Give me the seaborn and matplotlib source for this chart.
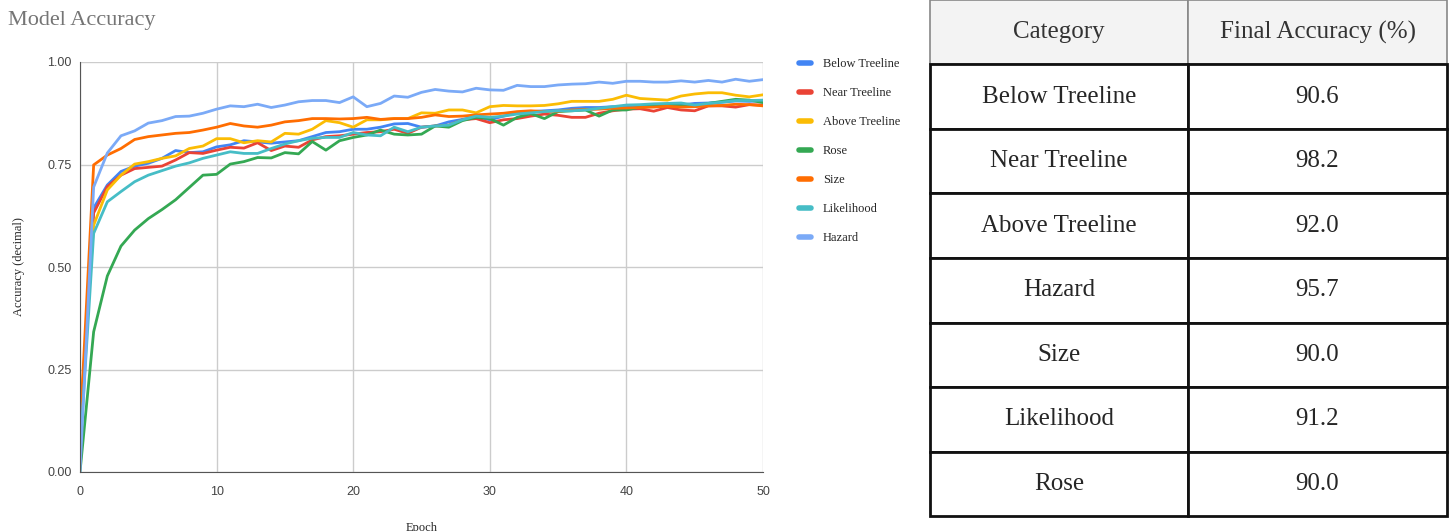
import pandas as pd
import numpy as np
import seaborn as sns
import matplotlib.pyplot as plt
from matplotlib.lines import Line2D

# Datos (precision por epoca)
epocas = list(range(0, 51))

below_treeline = [0.08, 0.644, 0.700, 0.733, 0.746, 0.753, 0.765, 0.784, 0.779, 0.781,
                  0.793, 0.798, 0.808, 0.805, 0.802, 0.805, 0.808, 0.818, 0.828, 0.830,
                  0.836, 0.836, 0.841, 0.849, 0.850, 0.841, 0.844, 0.854, 0.860, 0.867,
                  0.859, 0.868, 0.876, 0.879, 0.881, 0.883, 0.887, 0.889, 0.889, 0.891,
                  0.889, 0.893, 0.895, 0.897, 0.895, 0.899, 0.900, 0.902, 0.905, 0.904,
                  0.906]
near_treeline = [0.10, 0.632, 0.696, 0.724, 0.740, 0.743, 0.746, 0.761, 0.779, 0.777,
                 0.785, 0.792, 0.790, 0.803, 0.784, 0.795, 0.792, 0.810, 0.818, 0.820,
                 0.824, 0.828, 0.830, 0.836, 0.826, 0.841, 0.844, 0.846, 0.859, 0.862,
                 0.852, 0.859, 0.862, 0.868, 0.873, 0.870, 0.865, 0.865, 0.875, 0.881,
                 0.885, 0.886, 0.880, 0.889, 0.883, 0.881, 0.893, 0.893, 0.890, 0.896,
                 0.895]
above_treeline = [0.12, 0.602, 0.688, 0.724, 0.751, 0.757, 0.765, 0.771, 0.789, 0.795,
                  0.813, 0.813, 0.803, 0.808, 0.805, 0.826, 0.824, 0.836, 0.857, 0.852,
                  0.841, 0.859, 0.859, 0.862, 0.862, 0.876, 0.875, 0.883, 0.883, 0.876,
                  0.891, 0.894, 0.893, 0.893, 0.894, 0.898, 0.904, 0.904, 0.904, 0.909,
                  0.919, 0.911, 0.909, 0.907, 0.917, 0.922, 0.925, 0.925, 0.919, 0.915,
                  0.920]
rose = [0.00, 0.342, 0.478, 0.551, 0.590, 0.618, 0.640, 0.664, 0.694, 0.724,
        0.726, 0.751, 0.757, 0.767, 0.766, 0.779, 0.776, 0.806, 0.785, 0.808,
        0.816, 0.822, 0.834, 0.824, 0.822, 0.824, 0.844, 0.841, 0.857, 0.865,
        0.862, 0.846, 0.865, 0.874, 0.862, 0.879, 0.881, 0.883, 0.868, 0.883,
        0.883, 0.890, 0.893, 0.895, 0.893, 0.893, 0.899, 0.904, 0.909, 0.907,
        0.901]
size = [0.10, 0.749, 0.773, 0.789, 0.811, 0.818, 0.822, 0.826, 0.828, 0.834,
        0.841, 0.850, 0.844, 0.841, 0.846, 0.854, 0.857, 0.862, 0.862, 0.861,
        0.862, 0.865, 0.860, 0.862, 0.862, 0.865, 0.871, 0.867, 0.868, 0.871,
        0.873, 0.875, 0.879, 0.881, 0.879, 0.880, 0.883, 0.884, 0.885, 0.887,
        0.888, 0.889, 0.890, 0.892, 0.890, 0.891, 0.893, 0.894, 0.897, 0.896,
        0.893]
likelihood = [0.05, 0.582, 0.659, 0.684, 0.708, 0.724, 0.735, 0.746, 0.754, 0.765,
              0.773, 0.781, 0.777, 0.777, 0.789, 0.800, 0.808, 0.814, 0.816, 0.816,
              0.828, 0.822, 0.820, 0.841, 0.830, 0.841, 0.844, 0.846, 0.859, 0.868,
              0.865, 0.868, 0.873, 0.876, 0.879, 0.881, 0.881, 0.883, 0.887, 0.891,
              0.895, 0.896, 0.898, 0.899, 0.900, 0.895, 0.899, 0.902, 0.906, 0.906,
              0.907]
hazard = [0.00, 0.695, 0.778, 0.820, 0.832, 0.851, 0.857, 0.867, 0.868, 0.875,
          0.885, 0.893, 0.891, 0.897, 0.889, 0.895, 0.903, 0.906, 0.906, 0.901,
          0.915, 0.891, 0.899, 0.917, 0.914, 0.926, 0.933, 0.929, 0.927, 0.936,
          0.932, 0.931, 0.943, 0.940, 0.940, 0.944, 0.946, 0.947, 0.951, 0.948,
          0.953, 0.953, 0.951, 0.951, 0.954, 0.951, 0.955, 0.951, 0.958, 0.953,
          0.957]

series = ["Below Treeline", "Near Treeline", "Above Treeline", "Rose", "Size", "Likelihood", "Hazard"]
colores = ["#4285f4", "#ea4335", "#fbbc04", "#34a853", "#ff6d01", "#46bdc6", "#7baaf7"]

# Tabla de precision final
categorias_tabla = ["Below Treeline", "Near Treeline", "Above Treeline", "Hazard", "Size", "Likelihood", "Rose"]
precision_final = ["90.6", "98.2", "92.0", "95.7", "90.0", "91.2", "90.0"]

valores = [below_treeline, near_treeline, above_treeline, rose, size, likelihood, hazard]
filas = []
for nombre, vals in zip(series, valores):
    for e, v in zip(epocas, vals):
        filas.append({"Epoch": e, "Accuracy": v, "Serie": nombre})
df = pd.DataFrame(filas)

sns.set_style("white")
plt.rcParams['font.family'] = ['Liberation Serif', 'DejaVu Serif']

fig = plt.figure(figsize=(14.54, 5.31), dpi=100)

# Grafico de lineas
ax = fig.add_axes([80 / 1454, 1 - 472 / 531, 683 / 1454, 410 / 531])
sns.lineplot(data=df, x="Epoch", y="Accuracy", hue="Serie", palette=dict(zip(series, colores)),
             linewidth=2, ax=ax, legend=False)
ax.set_xlim(0, 50)
ax.set_ylim(0, 1)
ax.set_xticks([0, 10, 20, 30, 40, 50])
ax.set_yticks([0, 0.25, 0.5, 0.75, 1.0])
ax.set_yticklabels(["0.00", "0.25", "0.50", "0.75", "1.00"])
ax.grid(True, color="#cccccc", linewidth=1)
ax.set_axisbelow(True)
for lab in ax.get_xticklabels() + ax.get_yticklabels():
    lab.set_fontfamily("Liberation Sans")
    lab.set_fontsize(9)
    lab.set_color("#444444")
ax.tick_params(axis="y", length=0, pad=6)
ax.tick_params(axis="x", length=0, pad=10)
ax.spines["top"].set_visible(False)
ax.spines["right"].set_visible(False)
ax.spines["left"].set_color("#555555")
ax.spines["bottom"].set_color("#555555")
ax.set_xlabel("Epoch", fontsize=9, labelpad=17)
ax.set_ylabel("Accuracy (decimal)", fontsize=9, labelpad=16)

fig.text(8 / 1454, 1 - 20 / 531, "Model Accuracy", fontsize=16, color="#757575", va="center")

# Leyenda
handles = [Line2D([0], [0], color=c, linewidth=4) for c in colores]
fig.legend(handles, series, loc="upper left", bbox_to_anchor=(788 / 1454, 1 - 47 / 531),
           frameon=False, fontsize=9, handlelength=0.9, labelspacing=1.36, handletextpad=1.0)

# Tabla
tax = fig.add_axes([930 / 1454, 1 - 516 / 531, 517 / 1454, 516 / 531])
tax.axis("off")
contenido = [[c, p] for c, p in zip(categorias_tabla, precision_final)]
tabla = tax.table(cellText=contenido, colLabels=["Category", "Final Accuracy (%)"],
                  cellLoc="center", bbox=[0, 0, 1, 1], colWidths=[258, 259])
tabla.auto_set_font_size(False)
for (r, c), celda in tabla.get_celld().items():
    celda.set_text_props(fontsize=18, fontfamily="Liberation Serif")
    if r == 0:
        celda.set_facecolor("#f3f3f3")
        celda.set_edgecolor("#888888")
        celda.set_linewidth(1.2)
        celda.get_text().set_color("#333333")
    else:
        celda.set_edgecolor("#111111")
        celda.set_linewidth(2)

fig.savefig("out.png", dpi=100)
